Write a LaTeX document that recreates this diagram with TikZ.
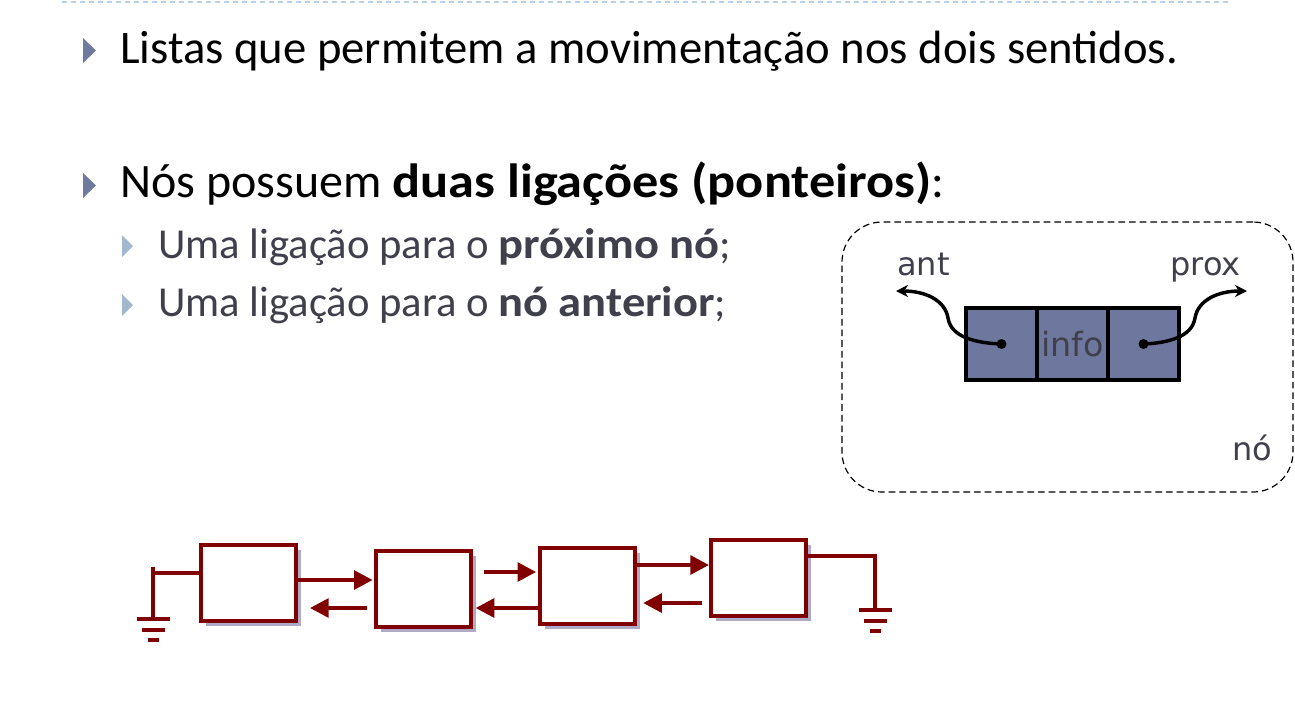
\documentclass[tikz,border=0pt]{standalone}
\usepackage{fontspec}
\setmainfont{Carlito}[BoldFeatures={FakeStretch=1.09}]
\newfontfamily\labelfont{DejaVu Sans}
\usetikzlibrary{positioning,calc,arrows.meta,shadows}
\definecolor{bulletblue}{RGB}{112,122,160}
\definecolor{subbullet}{RGB}{162,184,206}
\definecolor{subtext}{RGB}{64,64,76}
\definecolor{cellfill}{RGB}{110,120,158}
\definecolor{wirered}{RGB}{128,0,0}
\definecolor{shadowpurple}{RGB}{110,100,150}
\definecolor{ruleblue}{RGB}{185,208,230}
\tikzset{
  cell/.style={draw=black, line width=2.4pt, fill=cellfill, minimum width=53.25pt, minimum height=54pt, inner sep=0pt, outer sep=0pt, text=subtext, font=\labelfont\fontsize{25}{30}\selectfont},
  listbox/.style={draw=wirered, line width=3pt, fill=white, minimum width=71.25pt, minimum height=57pt, inner sep=0pt, drop shadow={shadow xshift=4pt, shadow yshift=-4pt, fill=shadowpurple, opacity=0.55}},
  link/.style={draw=wirered, line width=3pt, -{Triangle[length=14pt,width=14pt]}},
  wire/.style={draw=wirered, line width=3pt},
  ptr/.style={line width=2.6pt, -{Stealth[length=9pt,width=9pt]}},
  lbl/.style={anchor=base west, inner sep=0pt, text=subtext, font=\labelfont\fontsize{24}{28}\selectfont},
  bigline/.style={anchor=base west, inner sep=0pt, font=\fontsize{35}{42}\selectfont},
  subline/.style={anchor=base west, inner sep=0pt, text=subtext, font=\fontsize{32}{38}\selectfont}
}
\begin{document}
\begin{tikzpicture}[x=0.75pt,y=0.75pt,yscale=-1,xscale=1]
  \useasboundingbox (0,0) rectangle (1295,726);

  %Straight Lines (top rule)
  \draw [ruleblue, line width=1.5pt, dash pattern=on 3.75pt off 3pt] (62,1.5) -- (1230,1.5);

  % Bullets
  \fill [bulletblue] (83,38) -- (96,50.5) -- (83,63) -- cycle;
  \fill [bulletblue] (83,173) -- (96,185.5) -- (83,198) -- cycle;
  \fill [subbullet] (122,235) -- (133,246) -- (122,257) -- cycle;
  \fill [subbullet] (122,294) -- (133,305) -- (122,316) -- cycle;

  % Text Node
  \node [bigline] (line1) at (120,63) {Listas que permitem a movimentação nos dois sentidos.};
  % Text Node
  \node [bigline, font=\fontsize{36}{42}\selectfont] (line2) at (120,197) {Nós possuem \textbf{duas ligações (ponteiros)}:};
  % Text Node
  \node [subline] (sub1) at (158,258) {Uma ligação para o \textbf{próximo nó};};
  % Text Node
  \node [subline] (sub2) at (158,316) {Uma ligação para o \textbf{nó anterior};};

  %Shape: Rounded Rect (nó)
  \node [draw, line width=0.9pt, dash pattern=on 5pt off 3pt, rounded corners=30pt, minimum width=338.25pt, minimum height=202.5pt, inner sep=0pt] (frame) at (1067.5,357) {};
  \node [cell] (cellA) at (1001.5,344) {};
  \node [cell, right=0pt of cellA] (cellI) {info};
  \node [cell, right=0pt of cellI] (cellP) {};
  \coordinate (antEnd) at (896,291);
  \coordinate (proxEnd) at (1247,291);
  \fill (cellA.center) circle (5);
  \fill (cellP.center) circle (5);
  %Curve Lines
  \draw [ptr] (cellA.center) .. controls (975,343) and (951,337) .. (948,318) .. controls (945,300) and (925,291) .. (antEnd);
  %Curve Lines
  \draw [ptr] (cellP.center) .. controls (1168,343) and (1192,337) .. (1195,318) .. controls (1198,300) and (1218,291) .. (proxEnd);
  % Text Node
  \node [lbl] (antLbl) at (897,275) {ant};
  % Text Node
  \node [lbl] (proxLbl) at (1170,275) {prox};
  % Text Node
  \node [lbl] (noLbl) at (1232,460) {nó};

  %Shapes: list boxes
  \node [listbox] (b1) at (248.5,582.5) {};
  \node [listbox] (b2) at (423.5,588.5) {};
  \node [listbox] (b3) at (587,586) {};
  \node [listbox] (b4) at (758.5,578) {};

  %Straight Lines (links)
  \coordinate (f12) at ($(b1.east)+(0,-2.5)$);
  \coordinate (r21) at ($(b2.west)+(0,19.5)$);
  \coordinate (f23) at ($(b2.east)+(0,-16.5)$);
  \coordinate (r32) at ($(b3.west)+(0,22)$);
  \coordinate (f34) at ($(b3.east)+(0,-21)$);
  \coordinate (r43) at ($(b4.west)+(0,25)$);
  \draw [link, shorten >=1pt] (f12) -- (f12 -| b2.west);
  \draw [link, shorten <=5pt, shorten >=9pt] (r21) -- (r21 -| b1.east);
  \draw [link, shorten <=8pt, shorten >=1pt] (f23) -- (f23 -| b3.west);
  \draw [link, shorten >=2pt] (r32) -- (r32 -| b2.east);
  \draw [link] (f34) -- (f34 -| b4.west);
  \draw [link, shorten <=5pt, shorten >=5pt] (r43) -- (r43 -| b3.east);

  %Ground wires
  \coordinate (wL) at ($(b1.west)+(0,-9.5)$);
  \coordinate (gndL) at (153,619);
  \coordinate (wR) at ($(b4.east)+(0,-22)$);
  \coordinate (gndR) at (875,610);
  \draw [wire] (wL) -- (wL -| gndL);
  \draw [wire] ($(wL -| gndL)+(0,-6)$) -- (gndL);
  \draw [wire] (wR) -- (wR -| gndR) -- (gndR);
  \foreach \g in {gndL,gndR}{
    \draw [wire] ($(\g)+(-16.5,0)$) -- ($(\g)+(16.5,0)$);
    \draw [wire] ($(\g)+(-11.5,11)$) -- ($(\g)+(11.5,11)$);
    \draw [wire] ($(\g)+(-5.5,21)$) -- ($(\g)+(5.5,21)$);
  }
\end{tikzpicture}
\end{document}
